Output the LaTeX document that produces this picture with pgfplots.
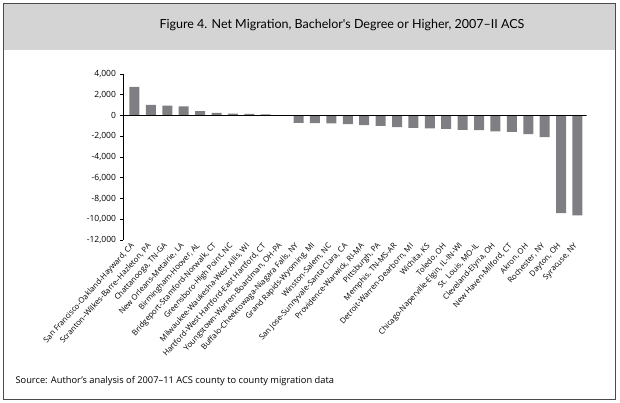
\documentclass[border=0pt]{standalone}
\usepackage{pgfplots}
\pgfplotsset{compat=1.18}
\usepackage{fontspec}
\setmainfont{Open Sans}
\newfontfamily\titlefont{Lato}
\usetikzlibrary{calc}

\definecolor{band}{HTML}{D4D4D4}
\definecolor{barcol}{HTML}{7F7F83}
\definecolor{frame}{HTML}{4A4A4A}

\begin{document}
\begin{tikzpicture}
  \begin{axis}[
    name=ax,
    at={(0,0)}, anchor=south west,
    scale only axis,
    width=463pt, height=166pt,
    ymin=-12000, ymax=4000,
    xmin=0.33, xmax=28.55,
    ytick={-12000,-10000,...,4000},
    scaled y ticks=false,
    ybar, bar width=10pt,
    axis x line*=bottom,
    axis y line*=left,
    x axis line style={draw=none},
    major x tick style={draw=none},
    y axis line style={black, line width=0.6pt},
    major y tick style={black, line width=0.6pt},
    tick align=outside,
    major tick length=3pt,
    yticklabel style={font=\fontsize{8.5}{10}\selectfont, xshift=-1pt},
    /pgf/number format/assume math mode=true,
    /pgf/number format/1000 sep={,},
    xtick={1,...,28},
    xticklabels={
      {San Francisco-Oakland-Hayward, CA},
      {Scranton–Wilkes-Barre–Hazleton, PA},
      {Chattanooga, TN-GA},
      {New Orleans-Metairie, LA},
      {Birmingham-Hoover, AL},
      {Bridgeport-Stamford-Norwalk, CT},
      {Greensboro-High Point, NC},
      {Milwaukee-Waukesha-West Allis, WI},
      {Hartford-West Hartford-East Hartford, CT},
      {Youngstown-Warren-Boardman, OH-PA},
      {Buffalo-Cheektowaga-Niagara Falls, NY},
      {Grand Rapids-Wyoming, MI},
      {Winston-Salem, NC},
      {San Jose-Sunnyvale-Santa Clara, CA},
      {Providence-Warwick, RI-MA},
      {Pittsburgh, PA},
      {Memphis, TN-MS-AR},
      {Detroit-Warren-Dearborn, MI},
      {Wichita, KS},
      {Toledo, OH},
      {Chicago-Naperville-Elgin, IL-IN-WI},
      {St. Louis, MO-IL},
      {Cleveland-Elyria, OH},
      {New Haven-Milford, CT},
      {Akron, OH},
      {Rochester, NY},
      {Dayton, OH},
      {Syracuse, NY}},
    xticklabel style={font=\fontsize{7.8}{9}\selectfont, rotate=48, anchor=east,
      inner sep=1pt, xshift=-1pt},
  ]
    \addplot[fill=barcol, draw=none] coordinates {
      (1,2750) (2,1020) (3,950) (4,870) (5,430) (6,260) (7,180) (8,150) (9,120)
      (10,-40) (11,-720) (12,-730) (13,-760) (14,-840) (15,-930) (16,-1000)
      (17,-1120) (18,-1190) (19,-1230) (20,-1280) (21,-1380) (22,-1420)
      (23,-1540) (24,-1580) (25,-1800) (26,-2090) (27,-9420) (28,-9620)};
    \draw[black, line width=0.8pt] (axis cs:0.33,0) -- (axis cs:28.55,0);
  \end{axis}
  % page frame: 620 x 403 pt, origin shifted to the axis box corner
  \coordinate (O) at ($(ax.south west)+(-123.5pt,-163pt)$);
  \begin{scope}[shift={(O)}, x=1pt, y=1pt]
    \pgfresetboundingbox
    \useasboundingbox (0,0) rectangle (620,403);
    \fill[band] (3.5,353) rectangle (615.5,399.5);
    \draw[frame, line width=1.2pt] (3.5,3.5) rectangle (615.5,399.5);
    \node[font=\titlefont\fontsize{12.5}{14}\selectfont] at (342,378)
      {Figure 4. Net Migration, Bachelor's Degree or Higher, 2007–II ACS};
    \node[anchor=west, font=\fontsize{9.3}{11}\selectfont] at (12,21.5)
      {Source: Author's analysis of 2007–11 ACS county to county migration data};
  \end{scope}
\end{tikzpicture}
\end{document}
